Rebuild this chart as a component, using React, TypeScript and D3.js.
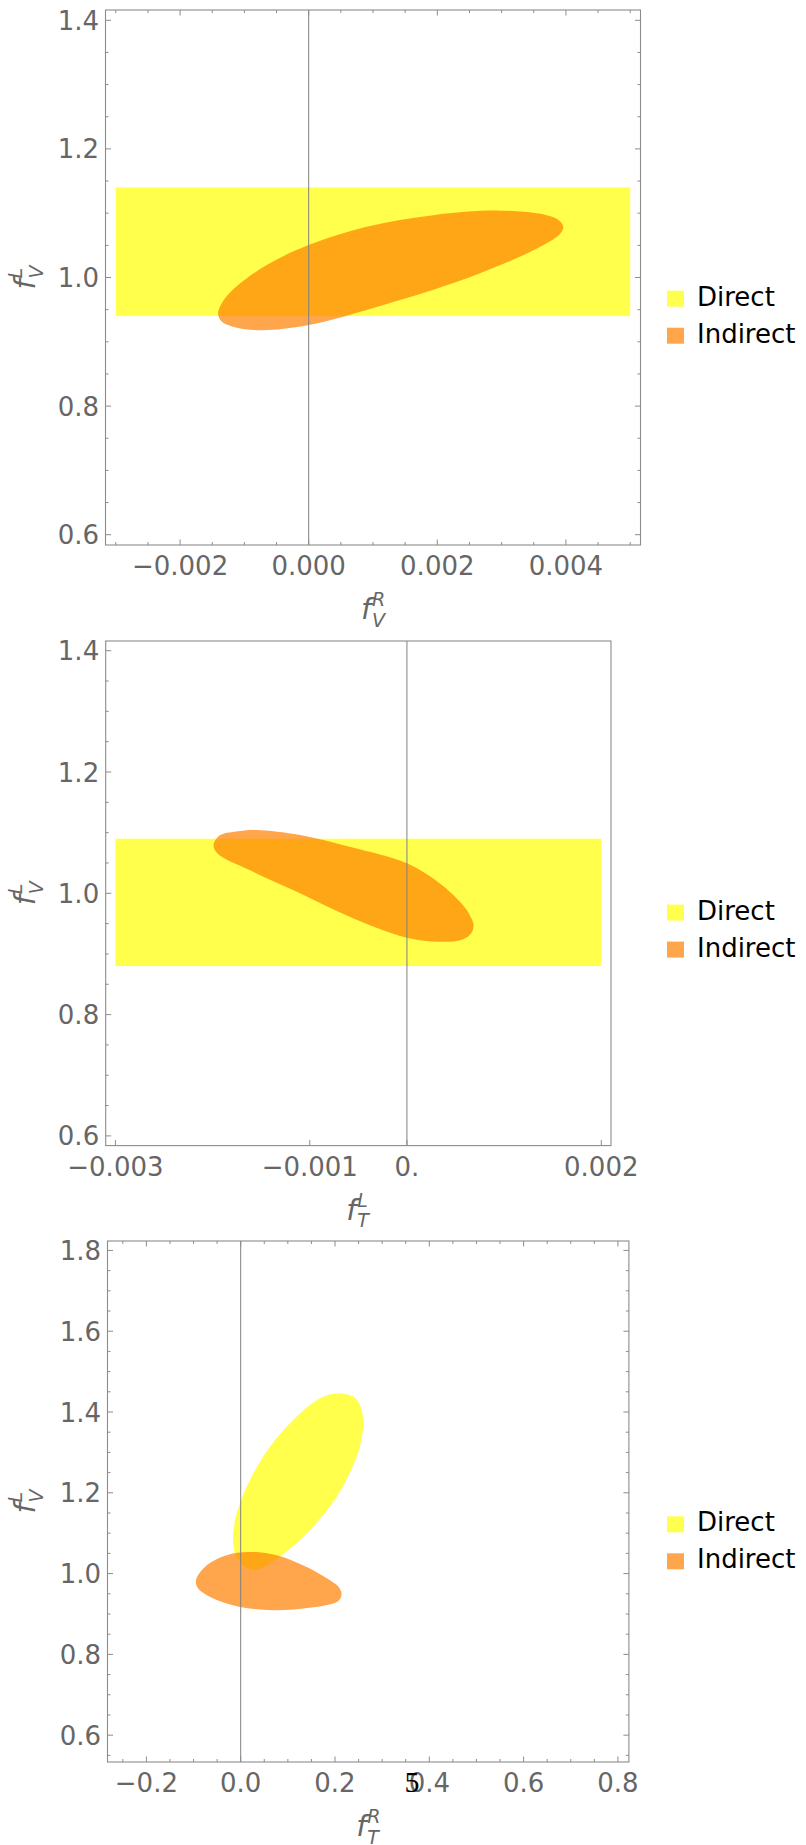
import React, { useEffect, useRef } from "react";
import * as d3 from "d3";

type Pt = [number, number];

// panel 1 : f_V^R (x) vs f_V^L (y)
const p1DirectX = [-0.003, 0.005];
const p1DirectY = [0.94, 1.14];
const p1Indirect: Pt[] = [
  [-0.00141, 0.944], [-0.00134, 0.962], [-0.00118, 0.981], [-0.00066, 1.019],
  [0, 1.0505], [0.0009, 1.079], [0.00194, 1.097], [0.00297, 1.104],
  [0.0037, 1.097], [0.00388, 1.09], [0.00396, 1.079], [0.00391, 1.068],
  [0.00375, 1.056], [0.00323, 1.03], [0.00246, 0.999], [0.00142, 0.965],
  [0, 0.926], [-0.00076, 0.918], [-0.00118, 0.9235], [-0.00135, 0.931],
];

// panel 2 : f_T^L (x) vs f_V^L (y)
const p2DirectX = [-0.003, 0.002];
const p2DirectY = [0.88, 1.09];
const p2Indirect: Pt[] = [
  [-0.00199, 1.0796], [-0.00193, 1.0953], [-0.00176, 1.102], [-0.00155, 1.1044],
  [-0.0011, 1.0961], [-0.00059, 1.0768], [0, 1.0495], [0.000336, 1.0165],
  [0.000576, 0.9807], [0.000645, 0.9642], [0.000686, 0.9477], [0.00066, 0.9337],
  [0.000573, 0.9238], [0.000405, 0.92], [0, 0.9268],
  [-0.00059, 0.9614], [-0.0011, 1.0], [-0.00162, 1.0384], [-0.00195, 1.0658],
];

// panel 3 : f_T^R (x) vs f_V^L (y)
const p3Direct: Pt[] = [
  [0.2142, 1.446], [0.2414, 1.4356], [0.2562, 1.4071], [0.26, 1.3633],
  [0.2551, 1.3279], [0.246, 1.289], [0.2036, 1.19], [0.1328, 1.0909],
  [0.0621, 1.025], [0.0267, 1.0084], [-0.0051, 1.033], [-0.0157, 1.0745],
  [-0.0121, 1.132], [0.0127, 1.2147], [0.0621, 1.3138], [0.1258, 1.3965],
  [0.1752, 1.4376],
];
const p3Indirect: Pt[] = [
  [-0.0948, 0.9837], [-0.0721, 1.0208], [-0.0297, 1.0456], [0.0161, 1.0537],
  [0.0764, 1.0456], [0.14, 1.0166], [0.1894, 0.9837], [0.2074, 0.9676],
  [0.2138, 0.9502], [0.2095, 0.9354], [0.1958, 0.926], [0.1328, 0.9136],
  [0.0692, 0.9094], [-0.0015, 0.9175], [-0.0581, 0.9383], [-0.09, 0.963],
];

const p1XTicks = [-0.002, 0, 0.002, 0.004];
const p1XLabels = ["\u22120.002", "0.000", "0.002", "0.004"];
const p2XTicks = [-0.003, -0.001, 0, 0.002];
const p2XLabels = ["\u22120.003", "\u22120.001", "0.", "0.002"];
const p3XTicks = [-0.2, 0, 0.2, 0.4, 0.6, 0.8];
const p3XLabels = ["\u22120.2", "0.0", "0.2", "0.4", "0.6", "0.8"];
const yTicks = [0.6, 0.8, 1.0, 1.2, 1.4];
const p3YTicks = [0.6, 0.8, 1.0, 1.2, 1.4, 1.6, 1.8];

const legendNames = ["Direct", "Indirect"];
const legendColors = ["#ffff4d", "#ffa64d"];

const FONT = "DejaVu Sans, sans-serif";
const GRAY = "#666";

const panels = [
  {
    id: 1, left: 105.5, right: 640.5, top: 10, bottom: 545,
    xDomain: [-0.00316, 0.00516], yDomain: [0.584, 1.416],
    directRect: [p1DirectX, p1DirectY], directPath: null as Pt[] | null, indirect: p1Indirect,
    xTicks: p1XTicks, xLabels: p1XLabels, yTicks: yTicks,
    xMinor: d3.range(-6, 11).filter(i => i % 4 !== 0).map(i => i * 0.0005),
    yMinor: d3.range(12, 29).filter(i => i % 4 !== 0).map(i => i * 0.05),
    mirror: true, xSup: "R", xSub: "V", legendTop: 290.7,
  },
  {
    id: 2, left: 105.7, right: 611, top: 641, bottom: 1145.6,
    xDomain: [-0.0031, 0.0021], yDomain: [0.584, 1.416],
    directRect: [p2DirectX, p2DirectY], directPath: null as Pt[] | null, indirect: p2Indirect,
    xTicks: p2XTicks, xLabels: p2XLabels, yTicks: yTicks,
    xMinor: [] as number[],
    yMinor: d3.range(12, 29).filter(i => i % 4 !== 0).map(i => i * 0.05),
    mirror: false, xSup: "L", xSub: "T", legendTop: 904.6,
  },
  {
    id: 3, left: 107.5, right: 628.9, top: 1241, bottom: 1762,
    xDomain: [-0.2825, 0.8233], yDomain: [0.5336, 1.8233],
    directRect: null as number[][] | null, directPath: p3Direct, indirect: p3Indirect,
    xTicks: p3XTicks, xLabels: p3XLabels, yTicks: p3YTicks,
    xMinor: d3.range(-5, 17).filter(i => i % 4 !== 0).map(i => i * 0.05),
    yMinor: d3.range(11, 37).filter(i => i % 4 !== 0).map(i => i * 0.05),
    mirror: true, xSup: "R", xSub: "T", legendTop: 1516.3,
  },
];

function axisLabel(g: any, sup: string, sub: string) {
  g.append("text").attr("x", -12).attr("y", 0)
    .attr("font-family", FONT).attr("font-style", "italic").attr("font-size", 29)
    .attr("fill", GRAY).text("f");
  g.append("text").attr("x", -1).attr("y", -13)
    .attr("font-family", FONT).attr("font-style", "italic").attr("font-size", 19)
    .attr("fill", GRAY).text(sup);
  g.append("text").attr("x", -1).attr("y", 7.5)
    .attr("font-family", FONT).attr("font-style", "italic").attr("font-size", 19)
    .attr("fill", GRAY).text(sub);
}

function drawPanel(svg: any, p: any) {
  const x = d3.scaleLinear().domain(p.xDomain).range([p.left, p.right]);
  const y = d3.scaleLinear().domain(p.yDomain).range([p.bottom, p.top]);
  const g = svg.append("g");

  const clipId = "clip" + p.id;
  svg.append("clipPath").attr("id", clipId).append("rect")
    .attr("x", p.left).attr("y", p.top)
    .attr("width", p.right - p.left).attr("height", p.bottom - p.top);
  const plot = g.append("g").attr("clip-path", `url(#${clipId})`);

  const line = d3.line<Pt>().x(d => x(d[0])).y(d => y(d[1]))
    .curve(d3.curveCatmullRomClosed.alpha(0.5));

  if (p.directRect) {
    const [dx, dy] = p.directRect;
    plot.append("rect")
      .attr("x", x(dx[0])).attr("y", y(dy[1]))
      .attr("width", x(dx[1]) - x(dx[0])).attr("height", y(dy[0]) - y(dy[1]))
      .attr("fill", "rgb(255,255,0)").attr("fill-opacity", 0.7);
  } else {
    plot.append("path").datum(p.directPath).attr("d", line)
      .attr("fill", "rgb(255,255,0)").attr("fill-opacity", 0.7);
  }
  plot.append("path").datum(p.indirect).attr("d", line)
    .attr("fill", "rgb(255,128,0)").attr("fill-opacity", 0.7);

  // vertical axis line at 0
  g.append("line").attr("x1", x(0)).attr("x2", x(0))
    .attr("y1", p.top).attr("y2", p.bottom)
    .attr("stroke", "#808080").attr("stroke-width", 1);

  // frame
  g.append("rect").attr("x", p.left).attr("y", p.top)
    .attr("width", p.right - p.left).attr("height", p.bottom - p.top)
    .attr("fill", "none").attr("stroke", "#8c8c8c").attr("stroke-width", 1.1);

  const tick = (vals: number[], len: number, horiz: boolean, mirror: boolean) => {
    vals.forEach(v => {
      if (horiz) {
        const xx = x(v);
        g.append("line").attr("x1", xx).attr("x2", xx).attr("y1", p.bottom).attr("y2", p.bottom - len)
          .attr("stroke", "#8c8c8c");
        if (mirror) g.append("line").attr("x1", xx).attr("x2", xx).attr("y1", p.top).attr("y2", p.top + len)
          .attr("stroke", "#8c8c8c");
      } else {
        const yy = y(v);
        g.append("line").attr("x1", p.left).attr("x2", p.left + len).attr("y1", yy).attr("y2", yy)
          .attr("stroke", "#8c8c8c");
        if (mirror) g.append("line").attr("x1", p.right).attr("x2", p.right - len).attr("y1", yy).attr("y2", yy)
          .attr("stroke", "#8c8c8c");
      }
    });
  };
  tick(p.xTicks, 5.5, true, p.mirror);
  tick(p.xMinor, 3, true, p.mirror);
  tick(p.yTicks, 5.5, false, p.mirror);
  tick(p.yMinor, 3, false, p.mirror);

  // tick labels
  p.xTicks.forEach((v: number, i: number) => {
    g.append("text").attr("x", x(v)).attr("y", p.bottom + 30)
      .attr("text-anchor", "middle").attr("font-family", FONT).attr("font-size", 26)
      .attr("fill", GRAY).text(p.xLabels[i]);
  });
  p.yTicks.forEach((v: number) => {
    g.append("text").attr("x", p.left - 6.5).attr("y", y(v) + 9.5)
      .attr("text-anchor", "end").attr("font-family", FONT).attr("font-size", 26)
      .attr("fill", GRAY).text(d3.format(".1f")(v));
  });

  // axis labels
  const cx = (p.left + p.right) / 2;
  const cy = (p.top + p.bottom) / 2;
  axisLabel(g.append("g").attr("transform", `translate(${cx},${p.bottom + 74})`), p.xSup, p.xSub);
  axisLabel(g.append("g").attr("transform", `translate(35,${cy}) rotate(-90)`), "L", "V");

  // legend
  legendNames.forEach((name, i) => {
    const ty = p.legendTop + i * 37;
    g.append("rect").attr("x", 667).attr("y", ty).attr("width", 17).attr("height", 16)
      .attr("fill", legendColors[i]);
    g.append("text").attr("x", 697).attr("y", ty + 15)
      .attr("font-family", FONT).attr("font-size", 26).attr("fill", "#000").text(name);
  });
}

export default function App() {
  const ref = useRef<SVGSVGElement>(null);

  useEffect(() => {
    const svg = d3.select(ref.current);
    svg.selectAll("*").remove();
    panels.forEach(p => drawPanel(svg, p));
    // stray page number sitting on the last x axis
    svg.append("text").attr("x", 412).attr("y", 1792).attr("text-anchor", "middle")
      .attr("font-family", "Liberation Serif, serif").attr("font-size", 30)
      .attr("fill", "#000").text("5");
  }, []);

  return (
    <svg ref={ref} width={806} height={1845}
      style={{ position: "absolute", left: 0, top: 0, background: "#fff" }} />
  );
}
